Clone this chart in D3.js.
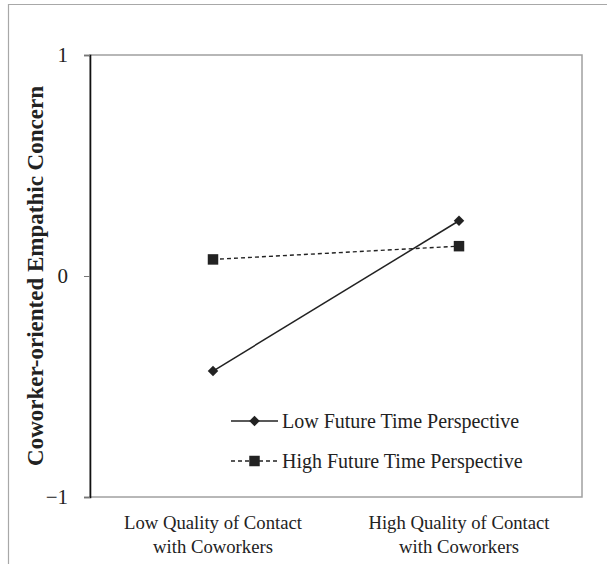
<!DOCTYPE html>
<html>
<head>
<meta charset="utf-8">
<script src="https://cdn.jsdelivr.net/npm/d3@7"></script>
<style>
  body { margin: 0; background: #fff; }
  svg text { font-family: "Liberation Serif", "Times New Roman", serif; fill: #222; }
</style>
</head>
<body>
<div id="chart"></div>
<script>
  // Data
  const categories = ['Low Quality of Contact|with Coworkers', 'High Quality of Contact|with Coworkers'];
  const lowFTP = [-0.43, 0.25];
  const highFTP = [0.075, 0.135];
  const yTicks = [-1, 0, 1];
  const seriesNames = ['Low Future Time Perspective', 'High Future Time Perspective'];

  const width = 607, height = 564;
  const margin = { top: 55, right: 25, bottom: 67, left: 90 };

  const svg = d3.select('#chart')
    .append('svg')
    .attr('width', width)
    .attr('height', height);

  // outer frame (only top/left visible in the picture)
  svg.append('path')
    .attr('d', `M8.5,${height} V4.5 H${width}`)
    .attr('fill', 'none')
    .attr('stroke', '#a8a8a8')
    .attr('stroke-width', 1.2);

  const x = d3.scaleBand()
    .domain(categories)
    .range([margin.left, width - margin.right])
    .padding(0);

  const y = d3.scaleLinear()
    .domain([-1, 1])
    .range([height - margin.bottom, margin.top]);

  // plot box
  svg.append('rect')
    .attr('x', margin.left)
    .attr('y', margin.top)
    .attr('width', width - margin.right - margin.left)
    .attr('height', height - margin.bottom - margin.top)
    .attr('fill', 'none')
    .attr('stroke', '#a0a0a0')
    .attr('stroke-width', 1.5);

  // y axis
  const yAxis = svg.append('g')
    .attr('transform', `translate(${margin.left},0)`)
    .call(d3.axisLeft(y).tickValues(yTicks).tickSize(6).tickPadding(16)
      .tickFormat(d => d < 0 ? '\u2212' + Math.abs(d) : d));
  yAxis.select('.domain').attr('stroke', '#111').attr('stroke-width', 1.6);
  yAxis.selectAll('.tick line').attr('stroke', '#777');
  yAxis.selectAll('.tick text')
    .style('font-size', '21px')
    .style('font-family', '"Liberation Serif", serif')
    .attr('fill', '#222');

  // x labels
  categories.forEach(c => {
    const t = svg.append('text')
      .attr('x', x(c) + x.bandwidth() / 2)
      .attr('y', height - margin.bottom + 32)
      .attr('text-anchor', 'middle')
      .style('font-size', '18.7px');
    c.split('|').forEach((s, i) => {
      t.append('tspan')
        .attr('x', x(c) + x.bandwidth() / 2)
        .attr('dy', i === 0 ? 0 : 24)
        .text(s);
    });
  });

  // y title
  svg.append('text')
    .attr('transform', `translate(43,${y(0)}) rotate(-90)`)
    .attr('text-anchor', 'middle')
    .style('font-size', '23px')
    .style('font-weight', 'bold')
    .text('Coworker-oriented Empathic Concern');

  const line = d3.line()
    .x((d, i) => x(categories[i]) + x.bandwidth() / 2)
    .y(d => y(d));

  const diamond = d3.symbol().type(d3.symbolDiamond2).size(70);
  const square = d3.symbol().type(d3.symbolSquare).size(110);

  // High FTP dashed
  svg.append('path')
    .datum(highFTP)
    .attr('d', line)
    .attr('fill', 'none')
    .attr('stroke', '#222')
    .attr('stroke-width', 1.4)
    .attr('stroke-dasharray', '4,3');

  // Low FTP solid
  svg.append('path')
    .datum(lowFTP)
    .attr('d', line)
    .attr('fill', 'none')
    .attr('stroke', '#222')
    .attr('stroke-width', 1.5);

  svg.selectAll('.sq')
    .data(highFTP)
    .enter()
    .append('path')
    .attr('d', square)
    .attr('transform', (d, i) => `translate(${x(categories[i]) + x.bandwidth() / 2},${y(d)})`)
    .attr('fill', '#222');

  svg.selectAll('.dm')
    .data(lowFTP)
    .enter()
    .append('path')
    .attr('d', diamond)
    .attr('transform', (d, i) => `translate(${x(categories[i]) + x.bandwidth() / 2},${y(d)})`)
    .attr('fill', '#222');

  // legend
  const legend = svg.append('g').attr('transform', 'translate(231,421)');
  seriesNames.forEach((name, i) => {
    const g = legend.append('g').attr('transform', `translate(0,${i * 40})`);
    g.append('line')
      .attr('x1', 0).attr('x2', 47)
      .attr('stroke', '#222')
      .attr('stroke-width', 1.4)
      .attr('stroke-dasharray', i === 0 ? null : '4,3');
    g.append('path')
      .attr('d', i === 0 ? diamond : square)
      .attr('transform', 'translate(23.5,0)')
      .attr('fill', '#222');
    g.append('text')
      .attr('x', 51)
      .attr('dy', '0.33em')
      .style('font-size', '20px')
      .text(name);
  });
</script>
</body>
</html>
